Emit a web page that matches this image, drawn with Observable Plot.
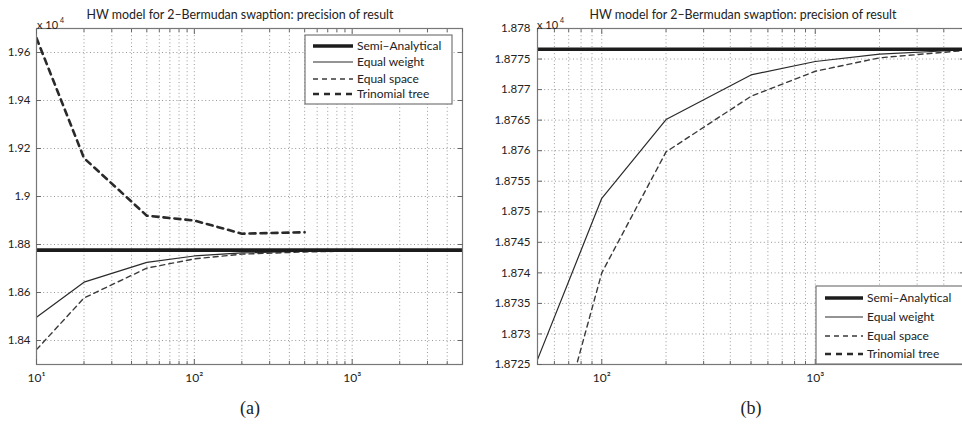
<!DOCTYPE html>
<html><head><meta charset="utf-8">
<script src="https://cdn.jsdelivr.net/npm/d3@7"></script>
<script src="https://cdn.jsdelivr.net/npm/@observablehq/plot@0.6"></script>
<style>
body{margin:0;background:#fff;}
#wrap{position:relative;width:962px;height:425px;overflow:hidden;font-family:Lato,"Open Sans",sans-serif;color:#222;}
.pane{position:absolute;top:0;}
.title{position:absolute;top:8px;font-size:12.4px;line-height:14px;white-space:nowrap;transform:translateX(-50%);}
.mult{position:absolute;top:14px;font-size:11px;line-height:12px;white-space:nowrap;}
.mult sup{font-size:7px;vertical-align:6px;margin-left:2px;}
.cap{position:absolute;top:398px;font-family:"Liberation Serif","DejaVu Serif",serif;font-size:18px;line-height:20px;transform:translateX(-50%);}
#leg{position:absolute;left:0;top:0;}
</style>
</head><body>
<div id="wrap"></div>
<script>
// ---- data (values in units of 10^4) ----
const nPoints = [10, 20, 50, 100, 200, 500, 1000, 2000, 5000];
const equalWeight = [1.8497, 1.8643, 1.87258, 1.87522, 1.87651, 1.87724, 1.87746, 1.87758, 1.87765];
const equalSpace = [1.8362, 1.8577, 1.87016, 1.87400, 1.87598, 1.87689, 1.87730, 1.87752, 1.87764];
const treeSteps = [10, 20, 50, 100, 200, 500];
const trinomialTree = [1.966, 1.916, 1.892, 1.890, 1.8845, 1.8851];
const semiAnalytical = 1.87766;

const seriesNames = ["Semi\u2013Analytical", "Equal weight", "Equal space", "Trinomial tree"];
const titleText = "HW model for 2\u2013Bermudan swaption: precision of result";

// panel (a) axes
const xTicksA = [10, 100, 1000];
const xLabelsA = ["10\u00b9", "10\u00b2", "10\u00b3"];
const xGridA = [10,20,30,40,50,60,70,80,90,100,200,300,400,500,600,700,800,900,1000,2000,3000,4000,5000];
const yTicksA = [1.84, 1.86, 1.88, 1.9, 1.92, 1.94, 1.96];
const yLabelsA = ["1.84", "1.86", "1.88", "1.9", "1.92", "1.94", "1.96"];

// panel (b) axes
const xTicksB = [100, 1000];
const xLabelsB = ["10\u00b2", "10\u00b3"];
const xGridB = [50,60,70,80,90,100,200,300,400,500,600,700,800,900,1000,2000,3000,4000,5000];
const yTicksB = [1.8725, 1.873, 1.8735, 1.874, 1.8745, 1.875, 1.8755, 1.876, 1.8765, 1.877, 1.8775, 1.878];
const yLabelsB = ["1.8725", "1.873", "1.8735", "1.874", "1.8745", "1.875", "1.8755", "1.876", "1.8765", "1.877", "1.8775", "1.878"];

const weightRows = nPoints.map((n, i) => ({n, v: equalWeight[i]}));
const spaceRows = nPoints.map((n, i) => ({n, v: equalSpace[i]}));
const treeRows = treeSteps.map((n, i) => ({n, v: trinomialTree[i]}));

const styles = [
  {stroke: "#1c1c1c", strokeWidth: 3.6, dash: null},
  {stroke: "#2a2a2a", strokeWidth: 1.2, dash: null},
  {stroke: "#3a3a3a", strokeWidth: 1.4, dash: "5,4"},
  {stroke: "#2a2a2a", strokeWidth: 2.6, dash: "6,5"}
];

function panel(o) {
  const minor = o.grid.filter(d => !o.xTicks.includes(d));
  const tickOnly = {tickFormat: () => "", stroke: "#666", label: null};
  return Plot.plot({
    width: o.width, height: 390,
    marginLeft: o.mL, marginRight: o.mR, marginTop: 28, marginBottom: 26,
    style: {fontFamily: "Lato, 'Open Sans', sans-serif", fontSize: "11px", color: "#222", background: "transparent"},
    x: {type: "log", domain: o.xDomain, label: null},
    y: {domain: o.yDomain, label: null},
    marks: [
      Plot.gridX(o.grid, {stroke: "#999", strokeOpacity: 1, strokeDasharray: "1,2.6"}),
      Plot.gridY(o.yTicks, {stroke: "#999", strokeOpacity: 1, strokeDasharray: "1,2.6"}),
      Plot.line(spaceRows, {x: "n", y: "v", stroke: styles[2].stroke, strokeWidth: styles[2].strokeWidth, strokeDasharray: styles[2].dash, clip: true}),
      Plot.line(weightRows, {x: "n", y: "v", stroke: styles[1].stroke, strokeWidth: styles[1].strokeWidth, clip: true}),
      Plot.ruleY([semiAnalytical], {stroke: styles[0].stroke, strokeWidth: styles[0].strokeWidth, clip: true}),
      Plot.line(treeRows, {x: "n", y: "v", stroke: styles[3].stroke, strokeWidth: styles[3].strokeWidth, strokeDasharray: styles[3].dash, clip: true}),
      Plot.frame({stroke: "#777", strokeWidth: 1.2}),
      // inward tick marks
      Plot.axisX({ticks: o.xTicks, anchor: "bottom", tickSize: -5, ...tickOnly}),
      Plot.axisX({ticks: o.xTicks, anchor: "top", tickSize: -5, ...tickOnly}),
      Plot.axisX({ticks: minor, anchor: "bottom", tickSize: -3, ...tickOnly}),
      Plot.axisX({ticks: minor, anchor: "top", tickSize: -3, ...tickOnly}),
      Plot.axisY({ticks: o.yTicks, anchor: "left", tickSize: -5, ...tickOnly}),
      Plot.axisY({ticks: o.yTicks, anchor: "right", tickSize: -5, ...tickOnly}),
      // labels
      Plot.axisX({ticks: o.xTicks, anchor: "bottom", tickSize: 0, tickPadding: 9, label: null,
        tickFormat: d => o.xLabels[o.xTicks.indexOf(d)], fontSize: 12}),
      Plot.axisY({ticks: o.yTicks, anchor: "left", tickSize: 0, tickPadding: o.yPad, label: null,
        tickFormat: d => o.yLabels[o.yTicks.indexOf(d)], fontSize: 11.5})
    ]
  });
}

const wrap = document.getElementById("wrap");

const a = panel({width: 480, mL: 36, mR: 18, xDomain: [10, 5000], yDomain: [1.83, 1.97],
  xTicks: xTicksA, xLabels: xLabelsA, grid: xGridA, yTicks: yTicksA, yLabels: yLabelsA, yPad: 6});
a.classList.add("pane"); a.style.left = "0px";
wrap.appendChild(a);

const b = panel({width: 484, mL: 57, mR: 0, xDomain: [50, 5000], yDomain: [1.8725, 1.878],
  xTicks: xTicksB, xLabels: xLabelsB, grid: xGridB, yTicks: yTicksB, yLabels: yLabelsB, yPad: 7});
b.classList.add("pane"); b.style.left = "480px";
wrap.appendChild(b);

function addDiv(cls, html, left) {
  const d = document.createElement("div");
  d.className = cls; d.innerHTML = html; d.style.left = left + "px";
  wrap.appendChild(d);
}
addDiv("title", titleText, 240);
addDiv("title", titleText, 743);
addDiv("mult", "x 10<sup>4</sup>", 37);
addDiv("mult", "x 10<sup>4</sup>", 537);
addDiv("cap", "(a)", 250);
addDiv("cap", "(b)", 751);

// legends
const svg = d3.create("svg").attr("id", "leg").attr("width", 962).attr("height", 425);
function legend(box, rowsY, x0, x1, tx, fs) {
  svg.append("rect").attr("x", box[0]).attr("y", box[1]).attr("width", box[2]).attr("height", box[3])
    .attr("fill", "#fff").attr("stroke", "#777").attr("stroke-width", 1.2);
  seriesNames.forEach((name, i) => {
    const s = styles[i];
    svg.append("line").attr("x1", x0).attr("x2", x1).attr("y1", rowsY[i]).attr("y2", rowsY[i])
      .attr("stroke", s.stroke).attr("stroke-width", s.strokeWidth)
      .attr("stroke-dasharray", s.dash);
    svg.append("text").attr("x", tx).attr("y", rowsY[i]).attr("dy", "0.35em")
      .attr("font-size", fs).attr("font-family", "Lato, 'Open Sans', sans-serif").attr("fill", "#222")
      .text(name);
  });
}
legend([305, 35, 147, 69], [46, 62, 79, 94], 313, 353, 357, 12);
legend([816, 286, 160, 78], [298, 317, 336, 354], 825, 863, 867, 12);
wrap.appendChild(svg.node());
</script>
</body></html>
